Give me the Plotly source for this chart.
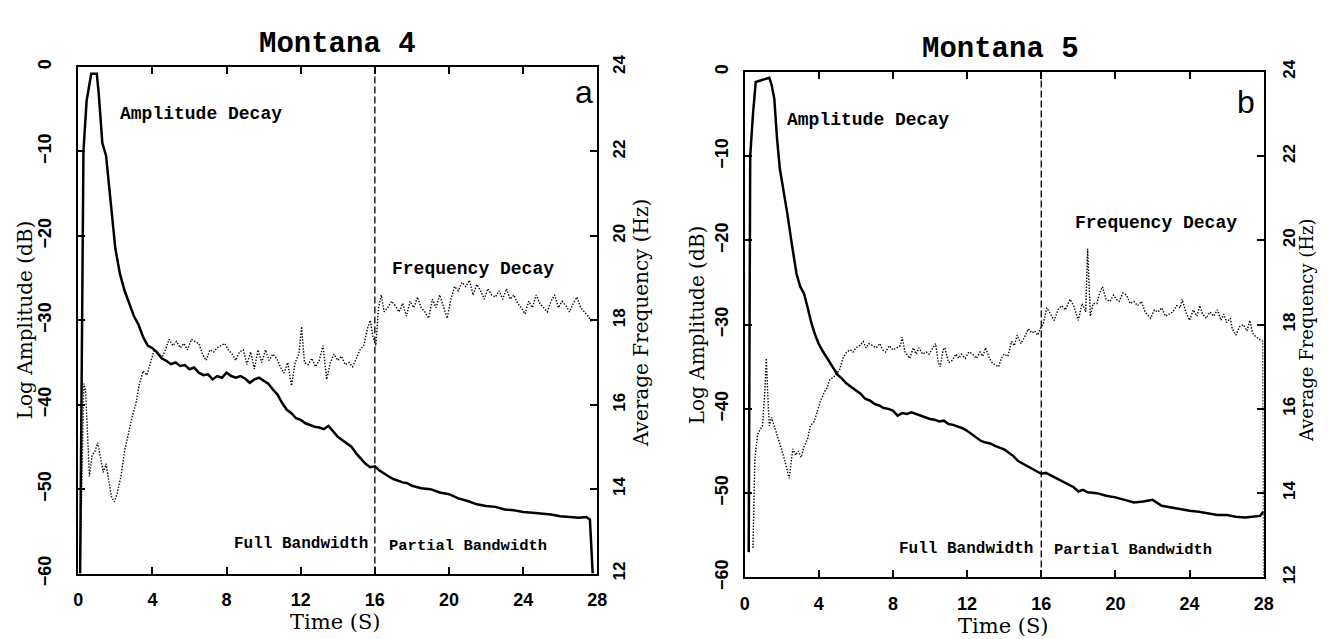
import plotly.graph_objects as go

# ---------------- data ----------------
# Montana 4 (panel a): amplitude (dB) vs time (s)
m4_amp_t = [0.10, 0.20, 0.28, 0.45, 0.70, 1.00, 1.10, 1.30, 1.50, 1.75, 2.00, 2.25, 2.50, 2.75, 3.00,
            3.25, 3.50, 3.75, 4.00, 4.25, 4.50, 4.75, 5.00, 5.25, 5.50, 5.75, 6.00, 6.25, 6.50, 6.75,
            7.00, 7.25, 7.50, 7.75, 8.00, 8.25, 8.50, 8.75, 9.00, 9.25, 9.50, 9.75, 10.00, 10.25, 10.50,
            10.75, 11.00, 11.25, 11.50, 11.75, 12.00, 12.25, 12.50, 12.75, 13.00, 13.25, 13.50, 13.75,
            14.00, 14.25, 14.50, 14.75, 15.00, 15.25, 15.50, 15.75, 16.00, 16.25, 16.50, 16.75, 17.00,
            17.25, 17.50, 17.75, 18.00, 18.50, 19.00, 19.50, 20.00, 20.50, 21.00, 21.50, 22.00, 22.50,
            23.00, 23.50, 24.00, 24.50, 25.00, 25.50, 26.00, 26.50, 27.00, 27.40, 27.60, 27.75]
m4_amp_db = [-60.0, -25.0, -10.0, -4.0, -0.8, -0.8, -3.0, -9.0, -10.5, -16.0, -21.5, -24.5, -26.5, -28.0, -29.5,
             -30.5, -32.0, -33.0, -33.3, -33.8, -34.5, -34.8, -35.2, -35.0, -35.4, -35.3, -35.8, -35.6, -36.2, -36.5,
             -36.4, -37.0, -36.6, -36.8, -36.2, -36.6, -36.8, -36.6, -36.9, -37.4, -37.0, -36.8, -37.2, -37.5, -38.2,
             -38.8, -39.8, -40.6, -41.0, -41.6, -41.8, -42.2, -42.4, -42.6, -42.7, -42.9, -42.5, -43.2,
             -43.8, -44.2, -44.6, -45.0, -45.8, -46.4, -47.0, -47.4, -47.3, -47.8, -48.2, -48.5, -48.8,
             -49.0, -49.2, -49.3, -49.6, -49.9, -50.0, -50.4, -50.6, -51.1, -51.4, -51.8, -52.0, -52.1,
             -52.4, -52.5, -52.7, -52.8, -52.9, -53.0, -53.2, -53.3, -53.4, -53.3, -53.6, -60.0]

# Montana 4 (panel a): average frequency (Hz) vs time (s)
m4_freq_t = [0.10, 0.20, 0.30, 0.40, 0.50, 0.60, 0.75, 0.90, 1.05, 1.20, 1.35, 1.50, 1.65, 1.80, 1.95,
             2.10, 2.30, 2.50, 2.70, 2.90, 3.10, 3.30, 3.50, 3.70, 3.90, 4.10, 4.30, 4.50, 4.70, 4.90,
             5.10, 5.30, 5.50, 5.70, 5.90, 6.10, 6.30, 6.50, 6.70, 6.90, 7.10, 7.30, 7.50, 7.70, 7.90,
             8.10, 8.30, 8.50, 8.70, 8.90, 9.10, 9.30, 9.50, 9.70, 9.90, 10.10, 10.30, 10.50, 10.70, 10.90,
             11.10, 11.30, 11.50, 11.70, 11.90, 12.05, 12.20, 12.40, 12.60, 12.80, 13.00, 13.20, 13.40,
             13.60, 13.80, 14.00, 14.20, 14.40, 14.60, 14.80, 15.00, 15.20, 15.40, 15.60, 15.75, 15.90,
             16.05, 16.20, 16.35, 16.50, 16.70, 16.90, 17.10, 17.30, 17.50, 17.70, 17.90, 18.10, 18.30,
             18.50, 18.70, 18.90, 19.10, 19.30, 19.50, 19.70, 19.90, 20.10, 20.30, 20.50, 20.70, 20.90,
             21.10, 21.30, 21.50, 21.70, 21.90, 22.10, 22.30, 22.50, 22.70, 22.90, 23.10, 23.30, 23.50,
             23.70, 23.90, 24.10, 24.30, 24.50, 24.70, 24.90, 25.10, 25.30, 25.50, 25.70, 25.90, 26.10,
             26.30, 26.50, 26.70, 26.90, 27.10, 27.30, 27.50, 27.70]
m4_freq_hz = [12.0, 14.0, 16.5, 16.3, 15.2, 14.3, 14.8, 14.9, 15.1, 14.7, 14.4, 14.6, 14.2, 13.8, 13.7,
              13.9, 14.3, 14.9, 15.3, 15.7, 16.0, 16.5, 16.8, 16.7, 17.0, 17.3, 17.2, 17.1, 17.3, 17.55,
              17.4, 17.5, 17.35, 17.45, 17.3, 17.55, 17.5, 17.45, 17.2, 17.05, 17.3, 17.25, 17.35, 17.4, 17.45,
              17.3, 17.2, 17.05, 17.25, 17.3, 16.95, 17.25, 16.85, 17.3, 17.0, 17.3, 17.05, 17.2, 17.1, 16.9,
              16.75, 17.0, 16.45, 17.0, 17.2, 17.85, 17.0, 16.95, 17.1, 16.9, 17.05, 17.4, 16.6,
              17.0, 17.2, 17.05, 17.15, 16.95, 17.0, 16.9, 17.1, 17.3, 17.4, 17.8, 18.0, 17.6,
              17.4, 18.3, 18.6, 18.2, 18.3, 18.45, 18.35, 18.2, 18.4, 18.1, 18.45, 18.3, 18.55,
              18.3, 18.2, 18.05, 18.5, 18.3, 18.6, 18.3, 18.05, 18.5, 18.8, 18.7, 18.9, 18.8,
              18.95, 18.6, 18.85, 18.7, 18.5, 18.75, 18.6, 18.55, 18.7, 18.5, 18.75, 18.5, 18.6,
              18.4, 18.3, 18.15, 18.45, 18.3, 18.6, 18.4, 18.3, 18.2, 18.45, 18.6, 18.3, 18.45,
              18.35, 18.2, 18.4, 18.55, 18.3, 18.2, 18.1, 17.95]

# Montana 5 (panel b): amplitude (dB) vs time (s)
m5_amp_t = [0.22, 0.27, 0.30, 0.45, 0.60, 1.33, 1.45, 1.60, 1.75, 1.90, 2.10, 2.30, 2.55, 2.80, 3.00,
            3.20, 3.40, 3.60, 3.80, 4.00, 4.20, 4.40, 4.60, 4.80, 5.00, 5.25, 5.50, 5.75, 6.00, 6.25,
            6.50, 6.75, 7.00, 7.25, 7.50, 7.75, 8.00, 8.25, 8.50, 8.75, 9.00, 9.25, 9.50, 9.75, 10.00,
            10.25, 10.50, 10.75, 11.00, 11.25, 11.50, 11.75, 12.00, 12.25, 12.50, 12.75, 13.00, 13.25,
            13.50, 13.75, 14.00, 14.25, 14.50, 14.75, 15.00, 15.25, 15.50, 15.75, 16.00, 16.25, 16.50,
            16.75, 17.00, 17.25, 17.50, 17.75, 18.00, 18.25, 18.50, 19.00, 19.50, 20.00, 20.50, 21.00,
            21.50, 22.00, 22.50, 23.00, 23.50, 24.00, 24.50, 25.00, 25.50, 26.00, 26.50, 27.00, 27.50,
            27.80, 28.00]
m5_amp_db = [-57.0, -30.0, -10.0, -5.0, -1.2, -0.7, -1.5, -3.2, -8.0, -11.5, -14.0, -16.8, -20.5, -24.0, -25.5,
             -26.3, -28.0, -29.8, -31.2, -32.3, -33.1, -33.8, -34.6, -35.3, -35.9, -36.4, -37.0, -37.4, -37.8, -38.2,
             -38.8, -39.0, -39.4, -39.6, -39.9, -40.0, -40.2, -40.8, -40.5, -40.6, -40.4, -40.6, -40.8, -41.0, -41.2,
             -41.3, -41.5, -41.4, -41.8, -41.9, -42.1, -42.3, -42.6, -43.0, -43.4, -43.8, -44.0, -44.1,
             -44.4, -44.6, -44.8, -45.2, -45.6, -46.2, -46.5, -46.8, -47.2, -47.5, -47.7, -47.6, -47.9,
             -48.2, -48.4, -48.8, -49.0, -49.3, -49.8, -49.6, -49.9, -50.0, -50.3, -50.5, -50.8, -51.1,
             -51.0, -50.8, -51.5, -51.7, -51.9, -52.1, -52.2, -52.4, -52.6, -52.6, -52.8, -52.9, -52.8,
             -52.7, -52.2]

# Montana 5 (panel b): average frequency (Hz) vs time (s)
m5_freq_t = [0.45, 0.50, 0.55, 0.70, 0.85, 0.96, 1.10, 1.17, 1.25, 1.33, 1.45, 1.60, 1.80, 1.95, 2.15,
             2.40, 2.50, 2.60, 2.75, 2.90, 3.05, 3.20, 3.40, 3.55, 3.75, 3.90, 4.10, 4.30, 4.45, 4.60,
             4.80, 4.96, 5.10, 5.30, 5.50, 5.70, 5.85, 6.00, 6.20, 6.40, 6.55, 6.70, 6.90, 7.10, 7.30,
             7.45, 7.60, 7.80, 8.00, 8.20, 8.40, 8.50, 8.65, 8.90, 9.10, 9.25, 9.40, 9.60, 9.80, 9.95,
             10.15, 10.30, 10.45, 10.55, 10.70, 10.80, 11.00, 11.20, 11.40, 11.55, 11.70, 11.90, 12.10,
             12.30, 12.50, 12.70, 12.85, 13.00, 13.20, 13.35, 13.50, 13.70, 13.85, 14.00, 14.20, 14.40,
             14.55, 14.70, 14.90, 15.10, 15.30, 15.50, 15.65, 15.80, 16.00, 16.10, 16.30, 16.50, 16.70,
             16.90, 17.10, 17.30, 17.55, 17.75, 18.00, 18.20, 18.40, 18.50, 18.65, 18.80, 19.00, 19.15,
             19.30, 19.50, 19.70, 19.90, 20.05, 20.20, 20.40, 20.60, 20.80, 21.00, 21.20, 21.40, 21.60,
             21.90, 22.10, 22.30, 22.50, 22.70, 22.90, 23.10, 23.30, 23.50, 23.60, 23.80, 24.00, 24.20,
             24.40, 24.55, 24.70, 24.90, 25.10, 25.30, 25.50, 25.70, 25.85, 26.00, 26.20, 26.30, 26.50,
             26.70, 26.90, 27.10, 27.25, 27.40, 27.60, 27.80, 27.95, 28.00]
m5_freq_hz = [12.7, 13.5, 14.8, 15.4, 15.5, 15.6, 16.5, 17.2, 16.3, 15.6, 15.8, 15.6, 15.3, 15.1, 14.8,
              14.35, 14.7, 15.05, 14.9, 15.0, 14.85, 15.1, 15.3, 15.6, 15.7, 15.9, 16.2, 16.4, 16.5, 16.7,
              16.75, 16.85, 16.9, 17.2, 17.35, 17.4, 17.35, 17.45, 17.5, 17.6, 17.45, 17.55, 17.5, 17.45, 17.55,
              17.4, 17.35, 17.5, 17.4, 17.45, 17.5, 17.7, 17.35, 17.2, 17.45, 17.3, 17.45, 17.3, 17.35, 17.3,
              17.45, 17.55, 17.1, 17.0, 17.4, 17.45, 17.1, 17.15, 17.3, 17.2, 17.3, 17.2, 17.35,
              17.3, 17.2, 17.35, 17.25, 17.45, 17.2, 17.1, 17.05, 17.0, 17.2, 17.3, 17.25, 17.6,
              17.5, 17.75, 17.55, 17.7, 17.9, 17.8, 17.85, 17.75, 17.95, 18.0, 18.4, 18.25, 18.1,
              18.35, 18.45, 18.35, 18.6, 18.45, 18.1, 18.5, 18.3, 19.8, 18.2, 18.5, 18.5, 18.75,
              18.9, 18.6, 18.55, 18.7, 18.6, 18.55, 18.75, 18.7, 18.5, 18.55, 18.45, 18.55, 18.3,
              18.15, 18.35, 18.3, 18.4, 18.2, 18.25, 18.3, 18.45, 18.4, 18.6, 18.3, 18.1, 18.35,
              18.2, 18.45, 18.25, 18.15, 18.3, 18.2, 18.35, 18.1, 18.25, 18.05, 18.15, 17.9, 17.75,
              17.95, 18.0, 17.85, 18.1, 17.8, 17.7, 17.65, 17.6, 12.0]

bandwidth_split_s = 16          # full / partial bandwidth boundary (s)
time_ticks = [0, 4, 8, 12, 16, 20, 24, 28]
amp_range = [-60, 0]
freq_range = [12, 24]
panel_titles = ["Montana 4", "Montana 5"]
panel_letters = ["a", "b"]

# ---------------- styling ----------------
W, H = 1328, 639
BLACK = "#000000"
MONO = "Liberation Mono, Courier New, monospace"
SERIF = "DejaVu Serif, Liberation Serif, serif"
SANS = "Liberation Sans, Arial, sans-serif"
tickfont = dict(family=SANS, size=18, color=BLACK, weight="bold")
freq_tickfont = dict(family=SANS, size=17, color=BLACK, weight="bold")


def px_x(p):
    return p / W


def px_y(p):
    return 1 - p / H


fig = go.Figure()

panels = [
    dict(x="x", y="y", y2="y2", amp_t=m4_amp_t, amp=m4_amp_db, f_t=m4_freq_t, f=m4_freq_hz),
    dict(x="x2", y="y3", y2="y4", amp_t=m5_amp_t, amp=m5_amp_db, f_t=m5_freq_t, f=m5_freq_hz),
]

for p in panels:
    fig.add_trace(go.Scatter(x=p["f_t"], y=p["f"], xaxis=p["x"], yaxis=p["y2"], mode="lines",
                             line=dict(color=BLACK, width=1.4, dash="1.4px,1.6px"),
                             showlegend=False, hoverinfo="skip"))
    fig.add_trace(go.Scatter(x=p["amp_t"], y=p["amp"], xaxis=p["x"], yaxis=p["y"], mode="lines",
                             line=dict(color=BLACK, width=2.5),
                             showlegend=False, hoverinfo="skip"))

common_x = dict(range=[0, 28], tickvals=time_ticks, ticks="inside", ticklen=7, tickwidth=1.5,
                tickcolor=BLACK, showline=True, linewidth=2, linecolor=BLACK, mirror="ticks",
                showgrid=False, zeroline=False, tickfont=tickfont, ticklabelstandoff=9)
common_amp = dict(range=amp_range, dtick=10, tickangle=-90, ticks="inside", ticklen=7, tickwidth=1.5,
                  tickcolor=BLACK, showline=True, linewidth=2, linecolor=BLACK,
                  showgrid=False, zeroline=False, tickfont=tickfont)
common_freq = dict(range=freq_range, dtick=2, tickangle=-90, ticks="inside", ticklen=7, tickwidth=1.5,
                   tickcolor=BLACK, showline=True, linewidth=2, linecolor=BLACK, side="right",
                   showgrid=False, zeroline=False, tickfont=freq_tickfont)

fig.update_layout(
    width=W, height=H, margin=dict(l=0, r=0, t=0, b=0),
    paper_bgcolor="white", plot_bgcolor="white", showlegend=False,
    xaxis=dict(domain=[px_x(66), px_x(591)], anchor="y", **common_x),
    yaxis=dict(domain=[px_y(576), px_y(48)], anchor="x", ticklabelstandoff=18, **common_amp),
    yaxis2=dict(overlaying="y", anchor="x", ticklabelstandoff=5, **common_freq),
    xaxis2=dict(domain=[px_x(740), px_x(1265)], anchor="y3", **common_x),
    yaxis3=dict(domain=[px_y(580), px_y(53)], anchor="x2", ticklabelstandoff=7, **common_amp),
    yaxis4=dict(overlaying="y3", anchor="x2", ticklabelstandoff=9, **common_freq),
)

# boundary lines between full and partial bandwidth
for xr, yr in [("x", "y domain"), ("x2", "y3 domain")]:
    fig.add_shape(type="line", xref=xr, yref=yr, x0=bandwidth_split_s, x1=bandwidth_split_s, y0=0, y1=1,
                  line=dict(color=BLACK, width=1.3, dash="7px,3px"))

ann = []
# in-plot labels (data coordinates)
labels = [
    ("x", "y", 6.63, -5.6, "Amplitude Decay", 18),
    ("x", "y", 21.3, -23.9, "Frequency Decay", 18),
    ("x", "y", 12.0, -56.5, "Full Bandwidth", 16),
    ("x", "y", 21.0, -56.7, "Partial Bandwidth", 15.5),
    ("x2", "y3", 6.67, -5.7, "Amplitude Decay", 18),
    ("x2", "y3", 22.2, -17.9, "Frequency Decay", 18),
    ("x2", "y3", 11.95, -56.6, "Full Bandwidth", 16),
    ("x2", "y3", 20.96, -56.8, "Partial Bandwidth", 15.5),
]
for xr, yr, xv, yv, txt, sz in labels:
    ann.append(dict(xref=xr, yref=yr, x=xv, y=yv, text=txt, showarrow=False,
                    font=dict(family=MONO, size=sz, color=BLACK, weight="bold")))

for xr, yr, xv, yv, txt in [("x", "y", 27.26, -2.9, panel_letters[0]), ("x2", "y3", 27.05, -3.6, panel_letters[1])]:
    ann.append(dict(xref=xr, yref=yr, x=xv, y=yv, text=txt, showarrow=False,
                    font=dict(family=SANS, size=32, color=BLACK)))

# titles and axis titles (paper coordinates)
paper_texts = [
    (328, 24, panel_titles[0], MONO, 29, "bold", 0),
    (999, 30, panel_titles[1], MONO, 29, "bold", 0),
    (326, 626, "Time (S)", SERIF, 21, "normal", 0),
    (1002, 631, "Time (S)", SERIF, 21, "normal", 0),
    (12, 311, "Log Amplitude (dB)", SERIF, 20, "normal", -90),
    (635, 315, "Average Frequency (Hz)", SERIF, 20, "normal", -90),
    (692, 317, "Log Amplitude (dB)", SERIF, 20, "normal", -90),
    (1309, 322, "Average Frequency (Hz)", SERIF, 18, "normal", -90),
]
for xp, yp, txt, fam, sz, wt, ang in paper_texts:
    ann.append(dict(xref="paper", yref="paper", x=px_x(xp), y=px_y(yp), text=txt, showarrow=False,
                    textangle=ang, xanchor="center", yanchor="middle",
                    font=dict(family=fam, size=sz, color=BLACK, weight=wt)))

fig.update_layout(annotations=ann)
fig.write_html("out.html")
